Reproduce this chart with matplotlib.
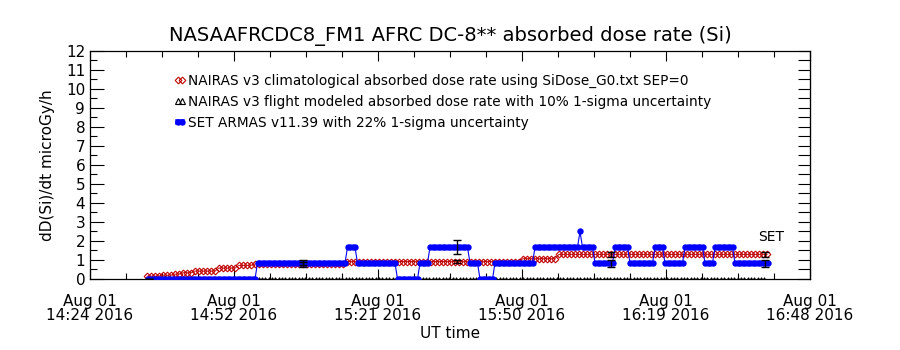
import numpy as np
import matplotlib
matplotlib.use('Agg')
import matplotlib.pyplot as plt
from matplotlib.lines import Line2D
from matplotlib.ticker import MultipleLocator

# time axis in minutes after 14:24 UT, Aug 01 2016
xtick_pos = [0, 28.8, 57.6, 86.4, 115.2, 144.0]
xtick_labels = ['Aug 01\n14:24 2016', 'Aug 01\n14:52 2016', 'Aug 01\n15:21 2016',
                'Aug 01\n15:50 2016', 'Aug 01\n16:19 2016', 'Aug 01\n16:48 2016']

# SET ARMAS: piecewise runs (start minute, level)
set_start = [11.6, 33.2, 51.2, 53.4, 61.2, 66.0, 68.0, 76.0, 78.0, 81.0, 89.0,
             98.0, 98.5, 101.0, 104.6, 108.0, 112.8, 115.0, 118.8, 122.8, 124.8, 128.8]
set_level = [0.0, 0.84, 1.67, 0.84, 0.0, 0.84, 1.67, 0.84, 0.0, 0.84, 1.67,
             2.5, 1.67, 0.84, 1.67, 0.84, 1.67, 0.84, 1.67, 0.84, 1.67, 0.84]
set_span = (11.5, 135.5, 0.5)

# NAIRAS climatological: runs (start minute, level)
clim_start = [11.4, 14.0, 16.5, 18.5, 20.5, 25.4, 29.4, 33.0, 51.4, 86.0, 93.6]
clim_level = [0.15, 0.2, 0.26, 0.33, 0.42, 0.58, 0.72, 0.8, 0.92, 1.07, 1.3]
clim_span = (11.4, 135.4, 0.8)

# NAIRAS flight modeled (all zero here)
flight_level = 0.0
flight_span = (11.6, 135.4, 0.67)

# error bar sample times
err_t = [11.8, 42.6, 73.4, 104.2, 135.0]
set_frac = 0.22
clim_frac = 0.10


def runs(start, level, span):
    t = np.arange(span[0], span[1] + 1e-6, span[2])
    idx = np.clip(np.searchsorted(start, t, side='right') - 1, 0, len(level) - 1)
    return t, np.asarray(level)[idx]


def at(start, level, t):
    idx = np.clip(np.searchsorted(start, t, side='right') - 1, 0, len(level) - 1)
    return np.asarray(level)[idx]


plt.rcParams['font.family'] = 'DejaVu Sans'
fig = plt.figure(figsize=(9, 3.5), dpi=100)
ax = fig.add_axes([0.1, 0.2029, 0.8, 0.6514])

red = '#c00000'
blue = '#0000ff'

ct, cv = runs(clim_start, clim_level, clim_span)
st, sv = runs(set_start, set_level, set_span)
ft = np.arange(flight_span[0], flight_span[1] + 1e-6, flight_span[2])
fv = np.full_like(ft, flight_level)

ax.plot(ft, fv, color='black', lw=0.6, marker='^', ms=2.6, mfc='none', mew=0.7, zorder=2)
ax.plot(ct, cv, color=red, lw=0.6, marker='D', ms=3.4, mfc='none', mew=0.8, zorder=3)
ax.plot(st, sv, color=blue, lw=0.8, marker='o', ms=4.6, mew=0, zorder=4)

et = np.array(err_t)
es = at(set_start, set_level, et)
ec = at(clim_start, clim_level, et)
es[0] = 0.0
ec[0] = 0.0
ax.errorbar(et, es, yerr=es * set_frac, fmt='none', ecolor='black', elinewidth=1.0,
            capsize=3, capthick=1.0, zorder=5)
ax.errorbar(et, ec, yerr=ec * clim_frac, fmt='none', ecolor='black', elinewidth=1.0,
            capsize=3, capthick=1.0, zorder=5)

ax.text(136.2, 2.2, 'SET', fontsize=10, ha='center', va='center')

ax.set_xlim(0, 144)
ax.set_ylim(0, 12)
ax.set_xticks(xtick_pos)
ax.set_xticklabels(xtick_labels, fontsize=11, linespacing=0.9)
ax.xaxis.set_minor_locator(MultipleLocator(7.2))
ax.set_yticks(range(0, 13))
ax.set_yticklabels([str(v) for v in range(0, 13)], fontsize=11)
ax.yaxis.set_minor_locator(MultipleLocator(0.5))
ax.tick_params(axis='x', which='both', direction='in', top=True, bottom=True, pad=11)
ax.tick_params(axis='x', which='major', length=7, width=0.8)
ax.tick_params(axis='x', which='minor', length=4, width=0.8)
ax.tick_params(axis='y', which='major', direction='in', length=10, width=0.8, left=True, right=False)
ax.tick_params(axis='y', which='minor', direction='in', length=5, width=0.8, left=True, right=False)
sec = ax.secondary_yaxis('right')
sec.set_yticks(np.arange(0, 12.01, 0.5))
sec.set_yticklabels([])
sec.tick_params(direction='in', length=9, width=0.8)
for s in ax.spines.values():
    s.set_linewidth(0.9)

ax.set_title('NASAAFRCDC8_FM1 AFRC DC-8** absorbed dose rate (Si)', fontsize=14, pad=7)
ax.set_ylabel('dD(Si)/dt microGy/h', fontsize=11, labelpad=8)
ax.set_xlabel('UT time', fontsize=11, labelpad=2)

handles = [
    Line2D([], [], color=red, lw=0, marker='D', ms=3.4, mfc='none', mew=0.8),
    Line2D([], [], color='black', lw=0, marker='^', ms=3.8, mfc='none', mew=0.8),
    Line2D([], [], color=blue, lw=4, marker='o', ms=4.6, mew=0),
]
labels = ['NAIRAS v3 climatological absorbed dose rate using SiDose_G0.txt SEP=0',
          'NAIRAS v3 flight modeled absorbed dose rate with 10% 1-sigma uncertainty',
          'SET ARMAS v11.39 with 22% 1-sigma uncertainty']
ax.legend(handles, labels, loc='upper left', bbox_to_anchor=(0.117, 0.898), frameon=False,
          numpoints=2, handlelength=0.9, handletextpad=0.1, labelspacing=0.5,
          fontsize=9.8, borderaxespad=0, borderpad=0)

fig.savefig('out.png', dpi=100)
